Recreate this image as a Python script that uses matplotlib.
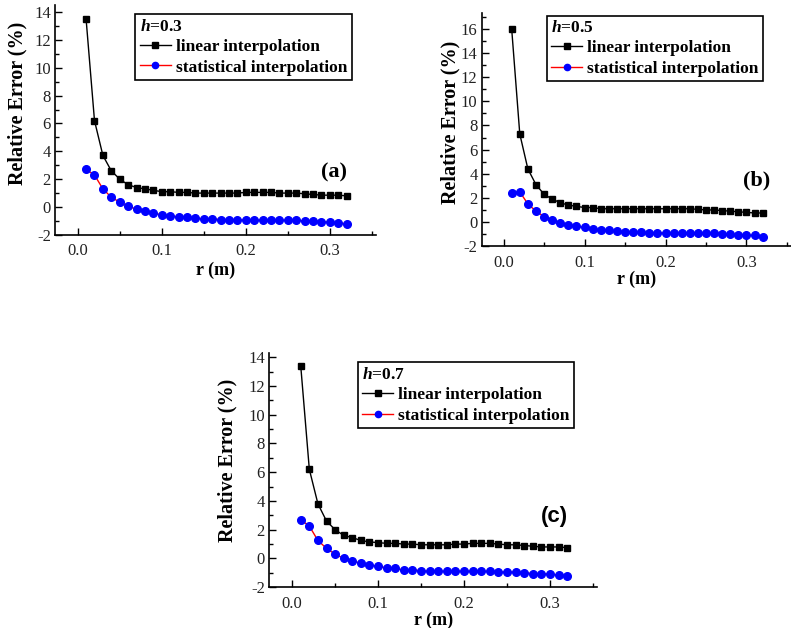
import matplotlib
matplotlib.use('Agg')
import matplotlib.pyplot as plt
from matplotlib.ticker import MultipleLocator
from matplotlib.lines import Line2D

plt.rcParams['font.family'] = ['Liberation Serif', 'DejaVu Serif']
plt.rcParams['axes.unicode_minus'] = False
plt.rcParams['mathtext.fontset'] = 'custom'
plt.rcParams['mathtext.it'] = 'Liberation Serif:italic:bold'
plt.rcParams['mathtext.rm'] = 'Liberation Serif:bold'

# 数据
r = [0.01, 0.02, 0.03, 0.04, 0.05, 0.06, 0.07, 0.08, 0.09, 0.10,
     0.11, 0.12, 0.13, 0.14, 0.15, 0.16, 0.17, 0.18, 0.19, 0.20,
     0.21, 0.22, 0.23, 0.24, 0.25, 0.26, 0.27, 0.28, 0.29, 0.30,
     0.31, 0.32]

lin_a = [13.5, 6.2, 3.7, 2.6, 2.0, 1.6, 1.4, 1.3, 1.2, 1.1,
         1.1, 1.05, 1.05, 1.0, 1.0, 1.0, 1.0, 1.0, 1.0, 1.05,
         1.05, 1.05, 1.05, 1.0, 1.0, 1.0, 0.95, 0.9, 0.85, 0.85,
         0.85, 0.8]
stat_a = [2.7, 2.3, 1.3, 0.7, 0.35, 0.05, -0.15, -0.3, -0.45, -0.55,
          -0.65, -0.7, -0.75, -0.8, -0.85, -0.85, -0.9, -0.9, -0.9, -0.95,
          -0.95, -0.95, -0.95, -0.95, -0.95, -0.95, -1.0, -1.0, -1.05, -1.1,
          -1.15, -1.2]

lin_b = [16.0, 7.3, 4.4, 3.1, 2.3, 1.9, 1.6, 1.4, 1.3, 1.2,
         1.2, 1.1, 1.1, 1.1, 1.1, 1.1, 1.1, 1.1, 1.1, 1.1,
         1.1, 1.1, 1.1, 1.05, 1.0, 1.0, 0.95, 0.9, 0.85, 0.8,
         0.75, 0.75]
stat_b = [2.4, 2.5, 1.5, 0.9, 0.45, 0.15, -0.05, -0.25, -0.35, -0.45,
          -0.6, -0.65, -0.7, -0.75, -0.8, -0.85, -0.85, -0.9, -0.9, -0.9,
          -0.9, -0.9, -0.9, -0.9, -0.9, -0.9, -0.95, -1.0, -1.05, -1.1,
          -1.1, -1.2]

lin_c = [13.4, 6.2, 3.8, 2.6, 2.0, 1.6, 1.45, 1.25, 1.15, 1.1,
         1.05, 1.05, 1.0, 1.0, 0.95, 0.95, 0.95, 0.95, 1.0, 1.0,
         1.05, 1.05, 1.05, 1.0, 0.95, 0.95, 0.9, 0.85, 0.8, 0.8,
         0.8, 0.75]
stat_c = [2.7, 2.25, 1.25, 0.7, 0.3, 0.0, -0.15, -0.35, -0.45, -0.55,
          -0.65, -0.7, -0.8, -0.8, -0.85, -0.9, -0.9, -0.9, -0.9, -0.9,
          -0.9, -0.9, -0.9, -0.95, -0.95, -0.95, -1.0, -1.05, -1.05, -1.1,
          -1.15, -1.2]

panels = [
    # (axes rect, lin, stat, h, tag, ylim, legend anchor, tag pos, tag font, xlabel pad, ylabel coords)
    ([0.0695, 0.626, 0.406, 0.366], lin_a, stat_a, '0.3', '(a)', (-2, 14.5),
     (0.25, 0.96), (0.87, 0.27), 'Liberation Serif', 2, (-0.087, 0.57)),
    ([0.609, 0.608, 0.391, 0.371], lin_b, stat_b, '0.5', '(b)', (-2, 17.3),
     (0.21, 0.99), (0.89, 0.28), 'Liberation Serif', 0, (-0.07, 0.53)),
    ([0.340, 0.065, 0.415, 0.373], lin_c, stat_c, '0.7', '(c)', (-2, 14.3),
     (0.27, 0.96), (0.87, 0.30), 'Liberation Sans', 0, (-0.095, 0.54)),
]

fig = plt.figure(figsize=(7.91, 6.28), dpi=100)

for rect, lin, stat, h, tag, ylim, leg_pos, tag_pos, tag_font, xpad, ylab in panels:
    ax = fig.add_axes(rect)
    ax.plot(r, lin, color='black', lw=1.0, marker='s', ms=4.5,
            mfc='black', mec='black')
    ax.plot(r, stat, color='red', lw=1.0, marker='o', ms=5.5,
            mfc='blue', mec='blue')

    ax.set_xlim(-0.027, 0.355)
    ax.set_ylim(*ylim)
    ax.xaxis.set_major_locator(MultipleLocator(0.1))
    ax.xaxis.set_minor_locator(MultipleLocator(0.05))
    ax.yaxis.set_major_locator(MultipleLocator(2))
    ax.yaxis.set_minor_locator(MultipleLocator(1))
    ax.set_xticks([0.0, 0.1, 0.2, 0.3])
    ax.set_xticklabels(['0.0', '0.1', '0.2', '0.3'])
    ax.tick_params(which='both', direction='in', labelsize=12, width=1,
                   labelcolor='#222222')
    ax.tick_params(which='major', length=5)
    ax.tick_params(which='minor', length=3)
    ax.tick_params(axis='x', pad=6)
    ax.tick_params(axis='y', pad=3)
    ax.spines['top'].set_visible(False)
    ax.spines['right'].set_visible(False)
    ax.spines['left'].set_linewidth(1.2)
    ax.spines['bottom'].set_linewidth(1.2)

    ax.set_xlabel('r (m)', fontsize=13, fontweight='bold', labelpad=xpad)
    ax.set_ylabel('Relative Error (%)', fontsize=14.5, fontweight='bold')
    ax.yaxis.set_label_coords(*ylab)

    handles = [
        Line2D([], [], color='black', lw=1.0, marker='s', ms=4.5, mfc='black', mec='black'),
        Line2D([], [], color='red', lw=1.0, marker='o', ms=4.5, mfc='blue', mec='blue'),
    ]
    leg = ax.legend(handles, ['linear interpolation', 'statistical interpolation'],
                    loc='upper left', bbox_to_anchor=leg_pos,
                    title='$h$=' + h, alignment='left',
                    prop={'weight': 'bold', 'size': 12.5},
                    title_fontproperties={'weight': 'bold', 'size': 12.5},
                    frameon=True, fancybox=False, edgecolor='black', framealpha=1,
                    handlelength=1.8, handletextpad=0.3, borderpad=0.25,
                    labelspacing=0.25, borderaxespad=0)
    leg.get_frame().set_linewidth(1.2)

    ax.text(tag_pos[0], tag_pos[1], tag, transform=ax.transAxes,
            fontsize=16, fontweight='bold', family=tag_font,
            ha='center', va='center')

fig.savefig('out.png', dpi=100, facecolor='white')
